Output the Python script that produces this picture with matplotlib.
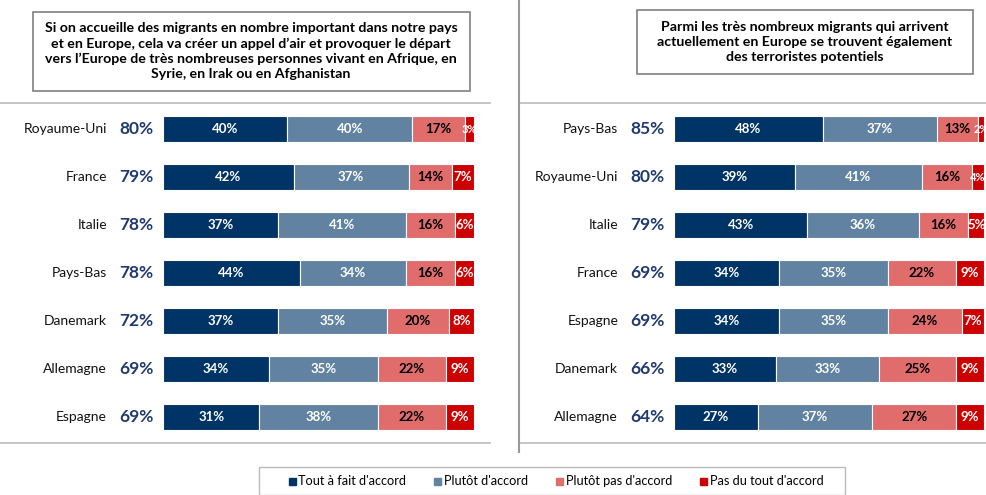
import matplotlib.pyplot as plt
from matplotlib.patches import Rectangle
from matplotlib.lines import Line2D

plt.rcParams['font.family'] = ['Lato', 'DejaVu Sans']

# Données
categories = ["Tout à fait d'accord", "Plutôt d'accord", "Plutôt pas d'accord", "Pas du tout d'accord"]
colors = ["#003366", "#6282A2", "#E06C6C", "#CC0000"]
text_colors = ["white", "white", "black", "white"]

title_left = ("Si on accueille des migrants en nombre important dans notre pays\n"
              "et en Europe, cela va créer un appel d’air et provoquer le départ\n"
              "vers l’Europe de très nombreuses personnes vivant en Afrique, en\n"
              "Syrie, en Irak ou en Afghanistan")
countries_left = ["Royaume-Uni", "France", "Italie", "Pays-Bas", "Danemark", "Allemagne", "Espagne"]
totals_left = [80, 79, 78, 78, 72, 69, 69]
tout_left = [40, 42, 37, 44, 37, 34, 31]
plutot_left = [40, 37, 41, 34, 35, 35, 38]
plutot_pas_left = [17, 14, 16, 16, 20, 22, 22]
pas_du_tout_left = [3, 7, 6, 6, 8, 9, 9]

title_right = ("Parmi les très nombreux migrants qui arrivent\n"
               "actuellement en Europe se trouvent également\n"
               "des terroristes potentiels")
countries_right = ["Pays-Bas", "Royaume-Uni", "Italie", "France", "Espagne", "Danemark", "Allemagne"]
totals_right = [85, 80, 79, 69, 69, 66, 64]
tout_right = [48, 39, 43, 34, 34, 33, 27]
plutot_right = [37, 41, 36, 35, 35, 33, 37]
plutot_pas_right = [13, 16, 16, 22, 24, 25, 27]
pas_du_tout_right = [2, 4, 5, 9, 7, 9, 9]

W, H = 987, 495
fig = plt.figure(figsize=(W / 100, H / 100), dpi=100)


def px_axes(x0, y0, x1, y1):
    # coordonnées en pixels (origine en haut à gauche)
    return fig.add_axes([x0 / W, 1 - y1 / H, (x1 - x0) / W, (y1 - y0) / H])


def draw_panel(ax, countries, totals, series):
    n = len(countries)
    left = [0] * n
    for k, vals in enumerate(series):
        ax.barh(range(n), vals, left=left, height=0.54, color=colors[k],
                edgecolor="white", linewidth=0.8)
        for i, v in enumerate(vals):
            # petits segments : police réduite pour rester dans le cadre
            fs = 9.5 if v >= 5 else 8
            ax.text(left[i] + v / 2, i, f"{v}%", ha="center", va="center",
                    color=text_colors[k], fontsize=fs, fontweight="bold")
            left[i] += v
    for i in range(n):
        ax.text(-18, i, countries[i], ha="right", va="center", fontsize=10, color="#111111")
        ax.text(-8.5, i, f"{totals[i]}%", ha="center", va="center", fontsize=12.5,
                fontweight="bold", color="#1F3A6E")
    ax.set_xlim(0, 100)
    ax.set_ylim(6.55, -0.55)
    ax.axis("off")


ax1 = px_axes(163, 103, 474, 443)
draw_panel(ax1, countries_left, totals_left,
           [tout_left, plutot_left, plutot_pas_left, pas_du_tout_left])
ax2 = px_axes(674, 103, 984, 443)
draw_panel(ax2, countries_right, totals_right,
           [tout_right, plutot_right, plutot_pas_right, pas_du_tout_right])

# lignes de séparation
def hline(x0, x1, y, color="#BBBBBB", lw=1.2):
    fig.add_artist(Line2D([x0 / W, x1 / W], [1 - y / H, 1 - y / H], color=color, lw=lw))

hline(0, 490, 103)
hline(0, 490, 443)
hline(520, 987, 103)
hline(520, 987, 443)
fig.add_artist(Line2D([519 / W, 519 / W], [1, 1 - 452 / H], color="#999999", lw=1.5))

# encadrés de titre
fig.add_artist(Rectangle((33 / W, 1 - 91 / H), 437 / W, 79 / H, fill=False,
                         edgecolor="#808080", lw=1.2))
fig.text(251 / W, 1 - 51 / H, title_left, ha="center", va="center", fontsize=10.2,
         fontweight="bold", linespacing=1.3)
fig.add_artist(Rectangle((637 / W, 1 - 74 / H), 336 / W, 64 / H, fill=False,
                         edgecolor="#808080", lw=1.2))
fig.text(805 / W, 1 - 42 / H, title_right, ha="center", va="center", fontsize=10.2,
         fontweight="bold", linespacing=1.3)

# légende
fig.add_artist(Rectangle((259 / W, 0), 586 / W, 28 / H, fill=False,
                         edgecolor="#BBBBBB", lw=1))
leg_x = [292, 438, 560, 704]
for k, lab in enumerate(categories):
    fig.add_artist(Rectangle(((leg_x[k] - 3.5) / W, 1 - 484.5 / H), 7 / W, 7 / H,
                             color=colors[k]))
    fig.text((leg_x[k] + 6) / W, 1 - 481 / H, lab, ha="left", va="center", fontsize=9.2)

fig.savefig("out.png", dpi=100)
